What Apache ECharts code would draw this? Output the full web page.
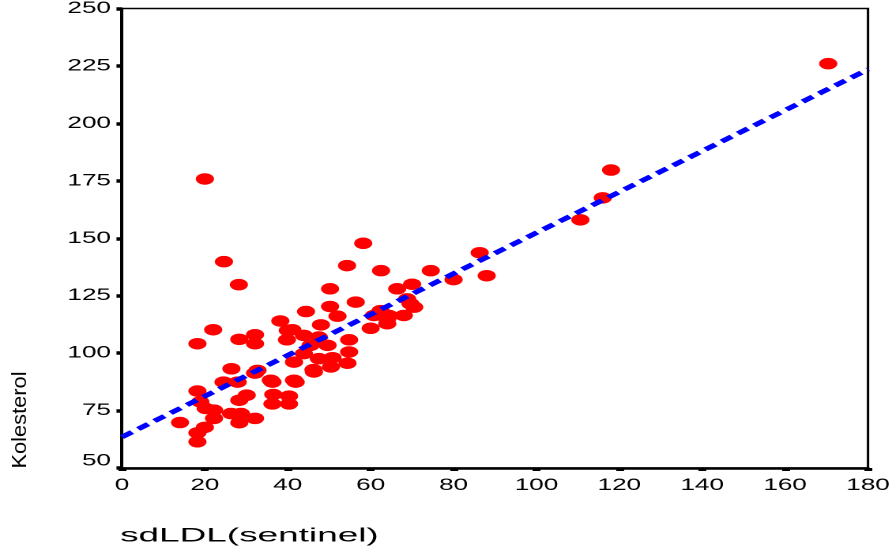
<!DOCTYPE html>
<html>
<head>
<meta charset="utf-8">
<script src="https://cdn.jsdelivr.net/npm/echarts@6/dist/echarts.min.js"></script>
<style>
html,body{margin:0;padding:0;background:#fff;overflow:hidden;}
#c{width:567px;height:558px;transform:scaleX(1.5802);transform-origin:0 0;}
</style>
</head>
<body>
<div id="c"></div>
<script>
// Data
const sdLDL = [170.4,118,116,110.6,88,86.3,80,74.5,70,58.2,62.5,54.3,20,24.6,28.2,
  22,18.2,28.3,32.1,32.1,38.2,44.4,40,39.8,26.4,24.5,18.2,32.1,36.3,41.9,27.9,30.1,28.3,36.5,40.3,36.3,40.3,22.2,20.2,22.2,18.9,26.3,28.7,28.3,32.1,14,20,18.2,18.2,
  50.2,56.4,50.2,52,66.4,68.8,64.4,60.8,60,64,41.1,48,43.9,47.5,54.8,54.8,54.4,50.4,46.2,41.5,43.9,47.5,50.8,45.5,49.6,35.9,41.5,32.7,46.3,69.6,70.5,68,62.4,64];
const kolesterol = [226,179.7,167.6,158,133.7,143.7,132,135.9,130,147.8,135.9,138.1,175.8,139.8,129.8,
  110.2,104.1,106,108,104.1,114,118.1,109.9,105.8,93.2,87.4,83.5,91.3,87.4,87.4,87.4,81.7,79.5,82,81.3,77.9,77.9,75.2,75.9,71.6,78.8,73.7,73.7,69.7,71.6,69.8,67.7,65.3,61.4,
  128,122.2,120.3,116.1,128,123.6,116.4,116.4,110.8,112.8,110.2,112.3,107.7,107,105.8,100.5,95.6,94,92.8,96.1,99.8,97.6,98,103.4,103.4,88.2,88.2,92.5,91.8,121.5,120,116.4,118.5,114.9];
const fitX = [0, 180];
const fitY = [63.5, 223.5];
const xTicks = [0,20,40,60,80,100,120,140,160,180];
const yTicks = [50,75,100,125,150,175,200,225,250];
const xTitle = 'sdLDL(sentinel)';
const yTitle = 'Kolesterol';

const points = sdLDL.map((x, i) => [x, kolesterol[i]]);
const fitLine = fitX.map((x, i) => [x, fitY[i]]);

const chart = echarts.init(document.getElementById('c'), null, {devicePixelRatio: 2, renderer: 'canvas'});
const font = 'Liberation Sans, Arial, sans-serif';
chart.setOption({
  animation: false,
  backgroundColor: '#fff',
  grid: {left: 77.2, right: 17.7, top: 7, bottom: 90, show: true, borderColor: '#000', borderWidth: 1.5, backgroundColor: 'transparent'},
  xAxis: {
    type: 'value', min: xTicks[0], max: xTicks[xTicks.length-1], interval: 20,
    splitLine: {show: false},
    axisLine: {show: true, onZero: false, lineStyle: {color: '#000', width: 2.5}},
    axisTick: {show: true, length: 3, lineStyle: {color: '#000', width: 5}},
    axisLabel: {color: '#000', fontSize: 16.5, fontFamily: font, margin: 9}
  },
  yAxis: {
    type: 'value', min: yTicks[0], max: yTicks[yTicks.length-1], interval: 25,
    splitLine: {show: false},
    axisLine: {show: true, onZero: false, lineStyle: {color: '#000', width: 2}},
    axisTick: {show: true, length: 3.5, lineStyle: {color: '#000', width: 3.5}},
    axisLabel: {color: '#000', fontSize: 16.5, fontFamily: font, margin: 7,
      formatter: v => v === yTicks[0] ? '{low|' + v + '}' : String(v),
      rich: {low: {fontSize: 16.5, fontFamily: font, color: '#000', padding: [0, 0, 14, 0]}}}
  },
  graphic: [
    {type: 'text', left: 76, top: 527, style: {text: xTitle, fill: '#000', font: '19px ' + font}, scaleX: 1.23},
    {type: 'text', x: 12.8, y: 420, rotation: Math.PI/2, scaleX: 1.68,
     style: {text: yTitle, fill: '#000', font: '13px ' + font, textAlign: 'center', textVerticalAlign: 'middle'}}
  ],
  series: [
    {type: 'scatter', data: points, symbol: 'circle', symbolSize: 11.5,
     itemStyle: {color: '#ff0000', opacity: 1}, z: 2},
    {type: 'line', data: fitLine, showSymbol: false, symbol: 'none',
     lineStyle: {color: '#0000ff', width: 4.5, type: [8, 5], cap: 'butt'}, z: 3}
  ]
});
</script>
</body>
</html>
